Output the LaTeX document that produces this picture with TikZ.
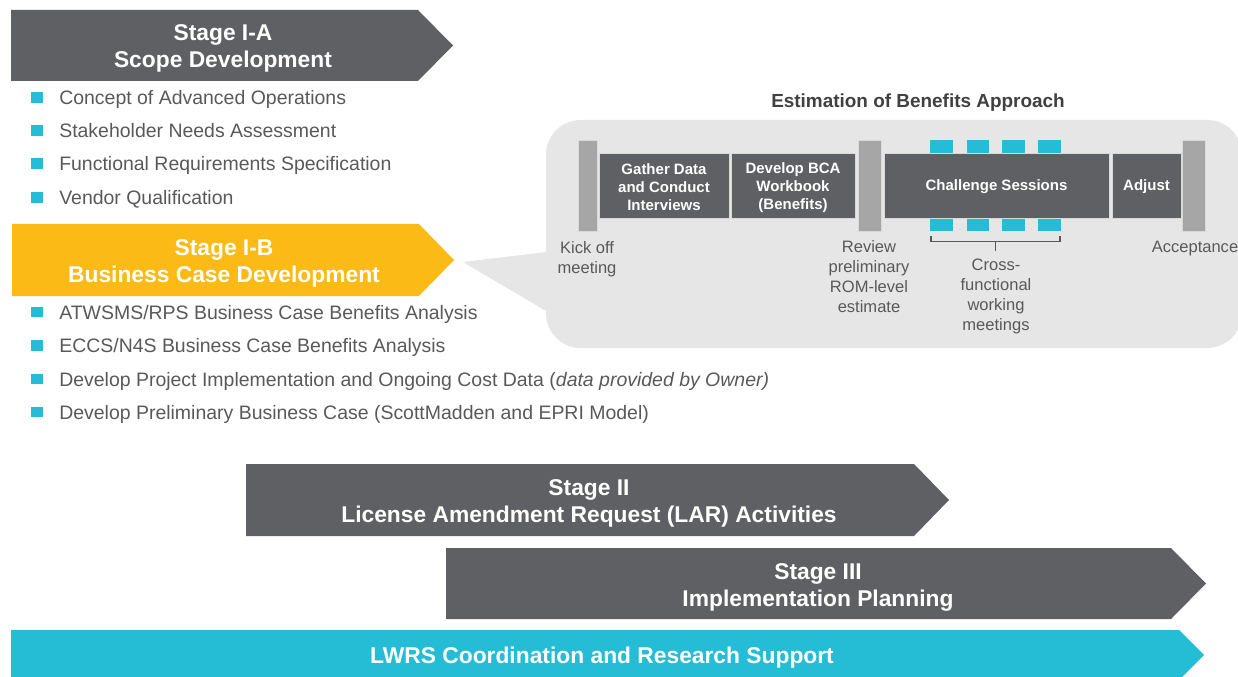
\documentclass[tikz,border=0pt]{standalone}
\usepackage{fontspec}
\setmainfont{Liberation Sans}
\usetikzlibrary{positioning}

\definecolor{stagegray}{RGB}{95,96,100}
\definecolor{stagegold}{RGB}{251,186,22}
\definecolor{lwrscyan}{RGB}{37,188,214}
\definecolor{calloutbg}{RGB}{230,230,230}
\definecolor{milegray}{RGB}{166,166,166}
\definecolor{bodytext}{RGB}{89,89,89}
\definecolor{titletext}{RGB}{64,64,64}

\begin{document}
\begin{tikzpicture}[x=0.75pt, y=-0.75pt,
    stagetxt/.style={text=white, align=center, inner sep=0pt,
        font=\fontsize{17.1}{20.5}\selectfont\bfseries},
    item/.style={anchor=base west, text=bodytext, inner sep=0pt,
        font=\fontsize{14.6}{17.5}\selectfont},
    workbox/.style={fill=stagegray, draw=black!15, line width=0.6pt,
        inner sep=0pt, minimum height=48.75pt},
    worktxt/.style={text=white, align=center, inner sep=0pt,
        font=\fontsize{11.25}{13.5}\selectfont\bfseries},
    milestone/.style={fill=milegray, draw=black!15, line width=0.5pt,
        inner sep=0pt, minimum height=68.25pt},
    lbl/.style={text=bodytext, align=center, inner sep=0pt,
        font=\fontsize{12.4}{15}\selectfont}
]
    \useasboundingbox (0,0) rectangle (1238,677);

    % stage I-A
    \fill[stagegray] (11,10) -- (418,10) -- (453,45.5) -- (418,81) -- (11,81) -- cycle;
    \node[stagetxt] (s1a) at (223,48.5) {Stage I-A\\Scope Development};
    \foreach \y in {97.3,130.7,163.5,197.3}
        \fill[lwrscyan] (31,\y-5.3) rectangle (42.5,\y+5.3);
    \node[item] (a1) at (59,104.3) {Concept of Advanced Operations};
    \node[item] (a2) at (59,137.7) {Stakeholder Needs Assessment};
    \node[item] (a3) at (59,170.5) {Functional Requirements Specification};
    \node[item] (a4) at (59,204.3) {Vendor Qualification};

    % stage I-B
    \fill[stagegold] (12,224) -- (419,224) -- (454,260) -- (419,296) -- (12,296) -- cycle;
    \node[stagetxt] (s1b) at (224,263.5) {Stage I-B\\Business Case Development};
    \foreach \y in {312,345.5,379,412}
        \fill[lwrscyan] (31,\y-5.3) rectangle (42.5,\y+5.3);
    \node[item] (b1) at (59,319) {ATWSMS/RPS Business Case Benefits Analysis};
    \node[item] (b2) at (59,352.5) {ECCS/N4S Business Case Benefits Analysis};
    \node[item] (b3) at (59,386) {Develop Project Implementation and Ongoing Cost Data (\textit{data provided by Owner)}};
    \node[item] (b4) at (59,419) {Develop Preliminary Business Case (ScottMadden and EPRI Model)};

    % callout with the benefits approach
    \fill[calloutbg] (546,252) -- (463,262) -- (546,311) -- cycle;
    \fill[calloutbg, rounded corners=26pt] (546,120) rectangle (1242,348);
    \node[text=titletext, inner sep=0pt, font=\fontsize{14.2}{17}\selectfont\bfseries]
        (title) at (918,103) {Estimation of Benefits Approach};

    \foreach \x in {930,966.5,1002,1038} {
        \fill[lwrscyan] (\x,140) rectangle ++(22.5,13);
        \fill[lwrscyan] (\x,218) rectangle ++(22.5,13);
    }
    \node[milestone, minimum width=14pt] (kick) at (587.5,185.5) {};
    \node[workbox, minimum width=97.5pt] (gather) at (664,185.5) {};
    \node[workbox, minimum width=93pt] (bca) at (793,185.5) {};
    \node[milestone, minimum width=17.5pt] (review) at (870,186) {};
    \node[workbox, minimum width=168.75pt] (chall) at (996.5,185.5) {};
    \node[workbox, minimum width=51.75pt] (adjust) at (1146.5,185.5) {};
    \node[milestone, minimum width=17.25pt] (accept) at (1193.5,186) {};

    \node[worktxt] (gathertxt) at ([yshift=-1.5pt]gather.center) {Gather Data\\and Conduct\\Interviews};
    \node[worktxt] (bcatxt) at ([yshift=-1.5pt]bca.center) {Develop BCA\\Workbook\\(Benefits)};
    \node[worktxt] (challtxt) at ([yshift=-0.5pt]chall.center) {Challenge Sessions};
    \node[worktxt] (adjusttxt) at ([yshift=-0.5pt]adjust.center) {Adjust};

    \draw[bodytext, line width=0.9pt] (931,236) -- (931,241.5) -- (1060,241.5) -- (1060,236)
        (995.5,241.5) -- (995.5,251);

    \node[lbl] (kicklbl) at (587,259) {Kick off\\meeting};
    \node[lbl] (reviewlbl) at (869,277) {Review\\preliminary\\ROM-level\\estimate};
    \node[lbl] (crosslbl) at (996,296.5) {Cross-\\functional\\working\\meetings};
    \node[lbl] (acceptlbl) at (1195,248.5) {Acceptance};

    % later stages
    \fill[stagegray] (246,464) -- (914,464) -- (949,500) -- (914,536) -- (246,536) -- cycle;
    \node[stagetxt] (s2) at (589,503.5) {Stage II\\License Amendment Request (LAR) Activities};
    \fill[stagegray] (446,548) -- (1171,548) -- (1206,583.5) -- (1171,619) -- (446,619) -- cycle;
    \node[stagetxt] (s3) at (818,587.5) {Stage III\\Implementation Planning};
    \fill[lwrscyan] (11,630) -- (1179,630) -- (1204,655) -- (1179,680) -- (11,680) -- cycle;
    \node[stagetxt] (lwrs) at (602,657.5) {LWRS Coordination and Research Support};
\end{tikzpicture}
\end{document}
